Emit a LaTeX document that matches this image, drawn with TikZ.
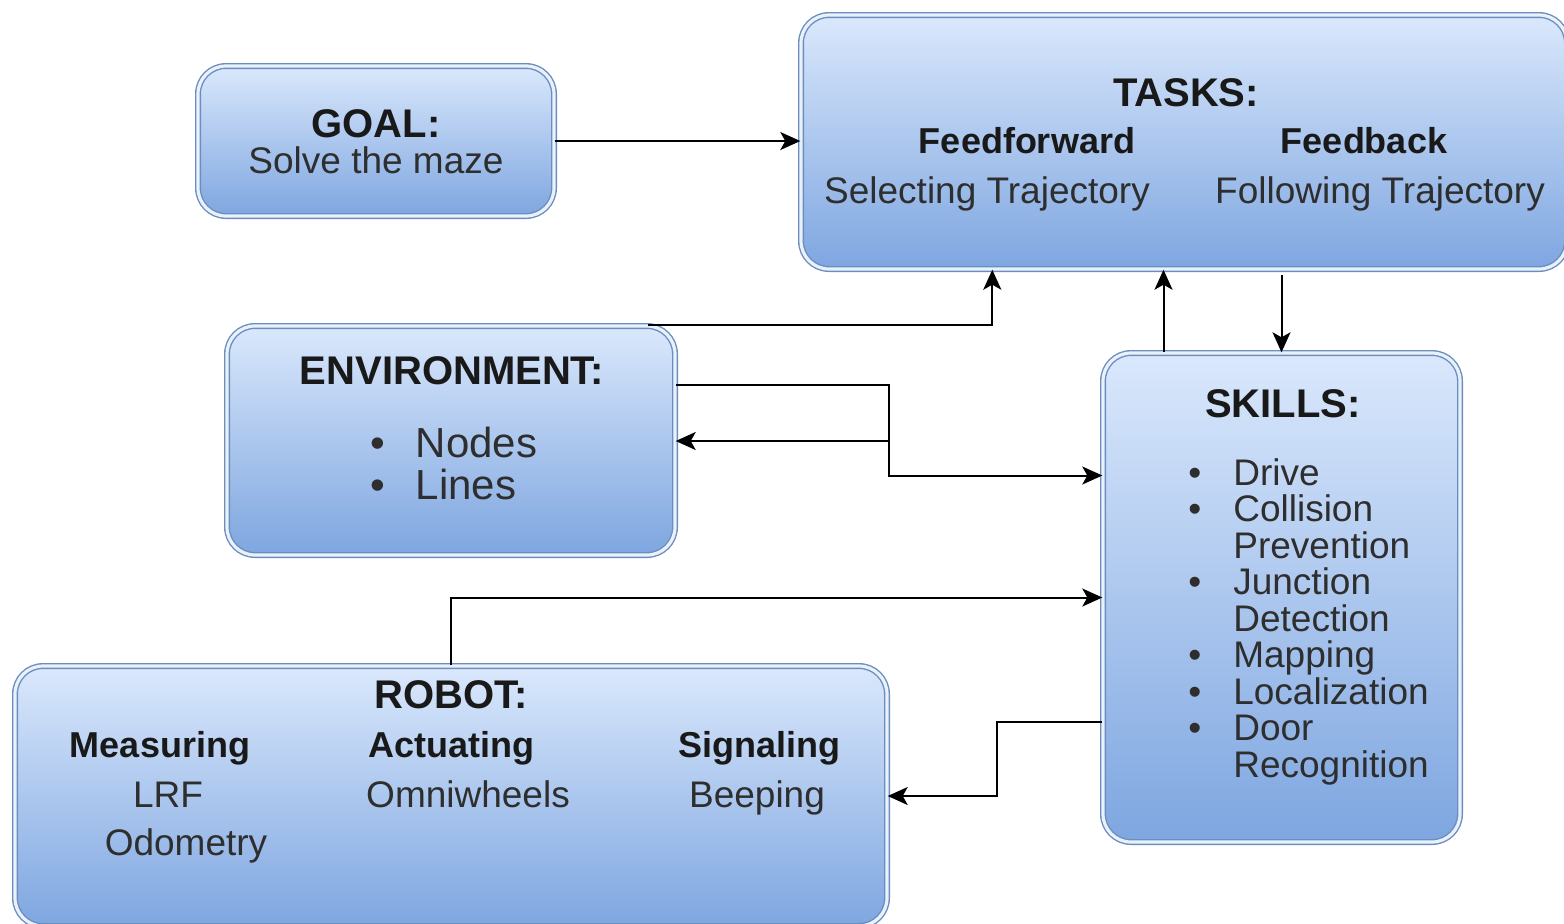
\documentclass[tikz,border=0pt]{standalone}
\usepackage{fontspec}
\setmainfont{Liberation Sans}
\usetikzlibrary{arrows.meta,fit}

\definecolor{boxtop}{HTML}{DAE8FC}
\definecolor{boxbot}{HTML}{7EA6E0}
\definecolor{boxline}{HTML}{6C8EBF}
\definecolor{textgray}{HTML}{2E2E2E}

% list items with a hanging indent
\newcommand{\bul}[1]{\textbullet\hspace{#1}}
\newcommand{\nobul}[1]{\phantom{\textbullet}\hspace{#1}}

\begin{document}
\begin{tikzpicture}[x=0.5pt,y=-0.5pt,
					% y runs downwards, units are half points
					box/.style={rectangle,rounded corners=14pt,inner sep=0pt,
						draw=boxline,line width=0.7pt,double=boxtop!60!white,double distance=1.6pt,
						top color=boxtop,bottom color=boxbot},
					arr/.style={-{Stealth[length=10pt,width=9pt,inset=2.5pt]},line width=1pt},
					title/.style={anchor=base,inner sep=0pt,text=black!90,
						font=\fontsize{20}{24}\selectfont\bfseries},
					head/.style={anchor=base,inner sep=0pt,text=black!90,
						font=\fontsize{18}{22}\selectfont\bfseries},
					plain/.style={anchor=base,inner sep=0pt,text=textgray,
						font=\fontsize{18.5}{22}\selectfont},
					% lists are placed by the baseline of their last line
					list/.style={anchor=base west,inner sep=0pt,align=left,text=textgray}]

  \useasboundingbox (0,0) rectangle (1564,923);
  \clip (0,0) rectangle (1564,923);

  % the five blocks
  \node[box,fit={(198,66) (554,216)}] (goal) {};
  \node[box,fit={(801,15) (1567,269)}] (tasks) {};
  \node[box,fit={(227,326) (675,555)}] (env) {};
  \node[box,fit={(1103,353) (1460,842)}] (skills) {};
  \node[box,fit={(15,666) (887,926)}] (robot) {};

  % goal
  \node[title] (goalT) at (376,137) {GOAL:};
  \node[plain] (goalS) at (376,173) {Solve the maze};

  % tasks
  \node[title] (tasksT) at (1186,106) {TASKS:};
  \node[head] (ff) at (1027,153) {Feedforward};
  \node[head] (fb) at (1364,153) {Feedback};
  \node[plain] (sel) at (987,203) {Selecting Trajectory};
  \node[plain] (fol) at (1380,203) {Following Trajectory};

  % environment
  \node[title] (envT) at (452,384) {ENVIRONMENT:};
  \node[list,font=\fontsize{21}{21}\selectfont] (envL) at (370,499)
    {\bul{15.4pt}Nodes\\
     \bul{15.4pt}Lines};

  % skills
  \node[title] (skillsT) at (1283,417) {SKILLS:};
  \node[list,font=\fontsize{18.5}{18.25}\selectfont] (skillsL) at (1188,777)
    {\bul{16pt}Drive\\
     \bul{16pt}Collision\\
     \nobul{16pt}Prevention\\
     \bul{16pt}Junction\\
     \nobul{16pt}Detection\\
     \bul{16pt}Mapping\\
     \bul{16pt}Localization\\
     \bul{16pt}Door\\
     \nobul{16pt}Recognition};

  % robot
  \node[title] (robotT) at (451,708) {ROBOT:};
  \node[head] (meas) at (160,757) {Measuring};
  \node[head] (act) at (451,757) {Actuating};
  \node[head] (sig) at (759,757) {Signaling};
  \node[plain] (lrf) at (168,807) {LRF};
  \node[plain] (omni) at (468,807) {Omniwheels};
  \node[plain] (beep) at (757,807) {Beeping};
  \node[plain] (odo) at (186,855) {Odometry};

  % connections
  \coordinate (jn) at (889,441);
  \draw[arr] (goal.east) -- (goal.east -| tasks.west);
  \draw[arr] ([xshift=-14pt]env.north east) -| ([xshift=96pt]tasks.south west);
  \draw[arr] ([yshift=28pt]env.east) -| (jn) |- ([yshift=61pt]skills.west);
  \draw[arr] (jn) -- (jn -| env.east);
  \draw[arr] ([xshift=-59pt]skills.north) -- ([xshift=-59pt]skills.north |- tasks.south);
  \draw[arr] ([yshift=-2.5pt]skills.north |- tasks.south) -- (skills.north);
  \draw[arr] (robot.north) |- (skills.west);
  \draw[arr] ([yshift=-62pt]skills.west) -- ++(-105,0) |- (robot.east);
\end{tikzpicture}
\end{document}
